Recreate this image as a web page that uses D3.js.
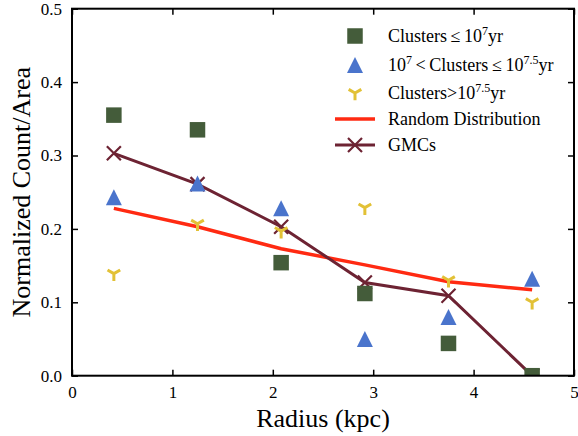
<!DOCTYPE html>
<html><head><meta charset="utf-8">
<script src="https://cdn.jsdelivr.net/npm/d3@7"></script>
<style>body{margin:0;background:#fff}svg{display:block}svg text{font-family:'Liberation Serif','Times New Roman',Times,serif !important;fill:#000}</style>
</head><body><svg id="c" width="578" height="436"></svg>
<script>
const radius = [0.417, 1.25, 2.083, 2.917, 3.75, 4.583];
const youngClusters = [0.355, 0.335, 0.154, 0.112, 0.044, 0.0];
const midClusters = [0.243, 0.262, 0.228, 0.050, 0.080, 0.132];
const oldClusters = [0.139, 0.207, 0.197, 0.229, 0.130, 0.100];
const randomDist = [0.228, 0.203, 0.173, 0.151, 0.128, 0.117];
const gmcs = [0.303, 0.261, 0.203, 0.127, 0.109, 0.0];
const xTicks = [0, 1, 2, 3, 4, 5];
const yTicks = [0.0, 0.1, 0.2, 0.3, 0.4, 0.5];

const C = {sq:"#445c3a", tri:"#4a74cc", yel:"#e2c136", red:"#ff2a12", gmc:"#6d2333"};
const FONT = "'Liberation Serif','Times New Roman',Times,serif";
const svg = d3.select("#c");
const L = 72, R = 574, T = 8.7, B = 375.7;
const x = d3.scaleLinear().domain([0,5]).range([L,R]);
const y = d3.scaleLinear().domain([0,0.5]).range([B,T]);

svg.append("defs").append("clipPath").attr("id","clip").append("rect")
  .attr("x",L).attr("y",T).attr("width",R-L).attr("height",B-T);
const plot = svg.append("g").attr("clip-path","url(#clip)");

const line = d3.line().x(d=>x(d[0])).y(d=>y(d[1]));
plot.append("path").datum(radius.map((r,i)=>[r,randomDist[i]])).attr("d",line)
  .attr("fill","none").attr("stroke",C.red).attr("stroke-width",3.5);
plot.append("path").datum(radius.map((r,i)=>[r,gmcs[i]])).attr("d",line)
  .attr("fill","none").attr("stroke",C.gmc).attr("stroke-width",3);

function sq(g, s){ g.append("rect").attr("x",-s/2).attr("y",-s/2).attr("width",s).attr("height",s).attr("fill",C.sq); }
function tri(g, s){ g.append("path").attr("d",`M0,${-s/2}L${s/2},${s/2}L${-s/2},${s/2}Z`).attr("fill",C.tri); }
function yy(g, r){ g.append("path").attr("d",`M0,0L0,${r}M0,0L${-0.866*r},${-0.5*r}M0,0L${0.866*r},${-0.5*r}`)
  .attr("stroke",C.yel).attr("stroke-width",3).attr("fill","none"); }
function xx(g, r){ g.append("path").attr("d",`M${-r},${-r}L${r},${r}M${-r},${r}L${r},${-r}`)
  .attr("stroke",C.gmc).attr("stroke-width",2.2).attr("fill","none"); }

function markers(vals, fn, sz){
  plot.append("g").selectAll("g").data(radius.map((r,i)=>[r,vals[i]])).join("g")
    .attr("transform",d=>`translate(${x(d[0])},${y(d[1])})`).each(function(){ fn(d3.select(this), sz); });
}
markers(gmcs, xx, 7);
markers(oldClusters, yy, 7.3);
markers(midClusters, tri, 16);
markers(youngClusters, sq, 15.5);

// axes
const tl = 6;
const ax = svg.append("g");
ax.append("g").attr("transform",`translate(0,${B})`).call(d3.axisBottom(x).tickValues(xTicks).tickSizeInner(-tl).tickSizeOuter(0).tickPadding(10).tickFormat(d3.format("d")));
ax.append("g").attr("transform",`translate(0,${T})`).call(d3.axisTop(x).tickValues(xTicks).tickSizeInner(-tl).tickSizeOuter(0).tickFormat(""));
ax.append("g").attr("transform",`translate(${L},0)`).call(d3.axisLeft(y).tickValues(yTicks).tickSizeInner(-tl).tickSizeOuter(0).tickPadding(10).tickFormat(d3.format(".1f")));
ax.append("g").attr("transform",`translate(${R},0)`).call(d3.axisRight(y).tickValues(yTicks).tickSizeInner(-tl).tickSizeOuter(0).tickFormat(""));
ax.selectAll(".domain").remove();
ax.selectAll("g").attr("font-family",FONT);
ax.selectAll(".tick line").attr("stroke","#000").attr("stroke-width",1.5);
ax.selectAll(".tick text").attr("font-size",17).attr("font-family",FONT).attr("fill","#000");
svg.append("rect").attr("x",L).attr("y",T).attr("width",R-L).attr("height",B-T)
  .attr("fill","none").attr("stroke","#000").attr("stroke-width",2);

svg.append("text").attr("font-family",FONT).attr("x",(L+R)/2).attr("y",427).attr("text-anchor","middle").attr("font-size",26).text("Radius (kpc)");
svg.append("text").attr("font-family",FONT).attr("transform",`translate(30,${(T+B)/2}) rotate(-90)`).attr("text-anchor","middle").attr("font-size",26).text("Normalized Count/Area");

// legend
const leg = svg.append("g").attr("font-size",18).attr("font-family",FONT);
const rows = [36, 65, 93, 119, 145];
const mx = 355, tx = 388;
function lg(i){ return leg.append("g").attr("transform",`translate(${mx},${rows[i]})`); }
sq(lg(0), 15.5); tri(lg(1), 16); yy(lg(2), 7.3);
lg(3).append("line").attr("x1",-20).attr("x2",20).attr("stroke",C.red).attr("stroke-width",3.5);
const g4 = lg(4); g4.append("line").attr("x1",-20).attr("x2",20).attr("stroke",C.gmc).attr("stroke-width",3); xx(g4,7);

function ltext(i, parts){
  const t = leg.append("text").attr("x",tx).attr("y",rows[i]+6);
  parts.forEach(p=>{
    const s = t.append("tspan").text(p[0]);
    if(p[1]) s.attr("baseline-shift","super").attr("font-size",12);
  });
}
ltext(0, [["Clusters\u2009\u2264\u200910"],["7",1],["yr"]]);
ltext(1, [["10"],["7",1],["\u2009<\u2009Clusters\u2009\u2264\u200910"],["7.5",1],["yr"]]);
ltext(2, [["Clusters>10"],["7.5",1],["yr"]]);
ltext(3, [["Random Distribution"]]);
ltext(4, [["GMCs"]]);
</script></body></html>
